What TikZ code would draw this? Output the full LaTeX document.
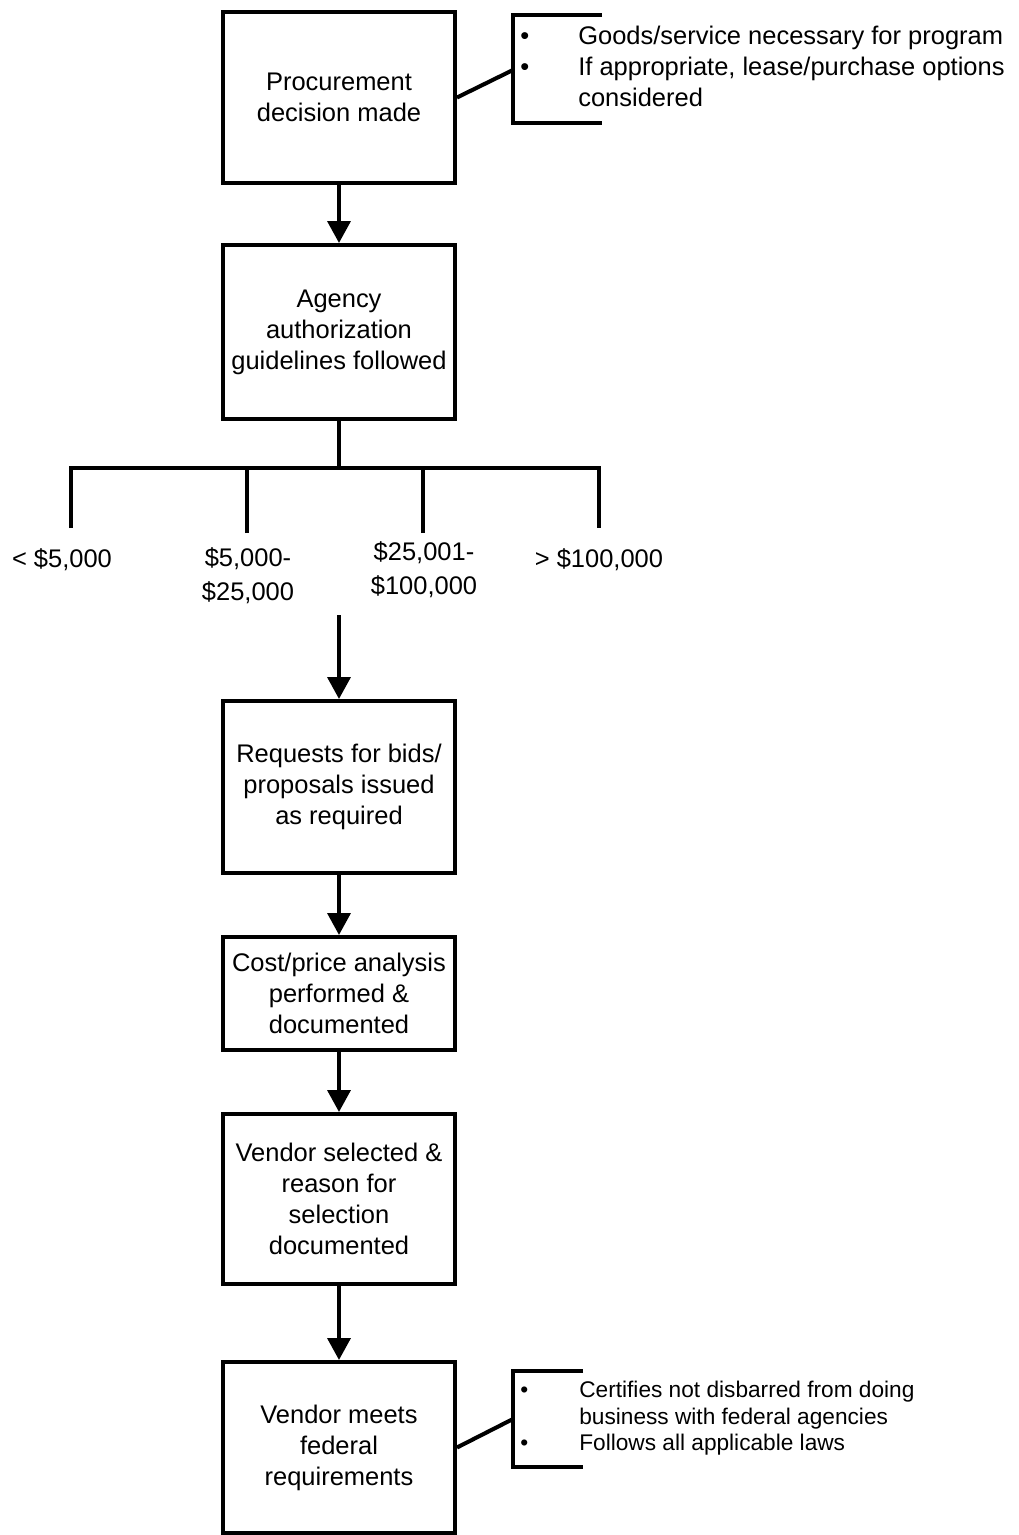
\documentclass[tikz,border=0pt]{standalone}
\usepackage{fontspec}
\setmainfont{Liberation Sans}
\usetikzlibrary{arrows.meta}

\tikzset{
  stepbox/.style={draw,line width=2.3pt,minimum width=4.64cm,inner sep=0pt,
    align=center,font=\fontsize{14.5pt}{17.6pt}\selectfont},
  flow/.style={line width=2.3pt,-{Triangle[length=12.5pt,width=13pt]}},
  link/.style={line width=2.3pt},
  pricelabel/.style={align=center,inner sep=0pt,font=\fontsize{14.5pt}{19.3pt}\selectfont},
  notes/.style={anchor=west,inner sep=0pt,align=left}
}

\begin{document}
\begin{tikzpicture}[x=0.02cm,y=-0.02cm]
\useasboundingbox (0,0) rectangle (1018,1535);

% steps
\node [stepbox,minimum height=3.42cm] (decide) at (339,97.5) {Procurement\\decision made};
\node [stepbox,minimum height=3.48cm] (agency) at (339,332) {Agency\\authorization\\guidelines followed};
\node [stepbox,minimum height=3.44cm] (bids) at (339,787) {Requests for bids/\\proposals issued\\as required};
\node [stepbox,minimum height=2.26cm] (cost) at (339,993.5) {Cost/price analysis\\performed \&\\documented};
\node [stepbox,minimum height=3.40cm] (vendor) at (339,1199) {Vendor selected \&\\reason for\\selection\\documented};
\node [stepbox,minimum height=3.42cm] (federal) at (339,1447.5) {Vendor meets\\federal\\requirements};

% price ranges
\node [pricelabel] (lt5k) at (62,560) {< \$5,000};
\node [pricelabel] (r5k) at (248,576) {\$5,000-\\\$25,000};
\node [pricelabel] (r25k) at (424,570) {\$25,001-\\\$100,000};
\node [pricelabel] (gt100k) at (599,560) {> \$100,000};

\coordinate (split) at (339,468);
\coordinate (d1) at (71,528);
\coordinate (d2) at (247,533);
\coordinate (d3) at (423,533);
\coordinate (d4) at (599,528);
\coordinate (merge) at (339,615);

\draw [link] (agency) -- (split);
\draw [link] (d1) |- (split) -| (d4);
\draw [link] (d2) -- (d2 |- split);
\draw [link] (d3) -- (d3 |- split);

\draw [flow] (decide) -- (agency);
\draw [flow] (merge) -- (bids);
\draw [flow] (bids) -- (cost);
\draw [flow] (cost) -- (vendor);
\draw [flow] (vendor) -- (federal);

% notes
\node [notes,font=\fontsize{14.5pt}{17.6pt}\selectfont] (need) at (520,69) {%
\begin{tabular}{@{}p{1.16cm}@{}l@{}}
\textbullet & Goods/service necessary for program\\
\textbullet & If appropriate, lease/purchase options\\
 & considered
\end{tabular}};
\coordinate (br1) at (513,70);
\draw [link] (602,15) -- (513,15) -- (513,123) -- (602,123);
\draw [link] (decide.east) -- (br1);

\node [notes,font=\fontsize{12.9pt}{15pt}\selectfont] (rules) at (520,1419) {%
\begin{tabular}{@{}p{1.18cm}@{}l@{}}
\textbullet & Certifies not disbarred from doing\\
 & business with federal agencies\\
\textbullet & Follows all applicable laws
\end{tabular}};
\coordinate (br2) at (513,1419);
\draw [link] (583,1371) -- (513,1371) -- (513,1467) -- (583,1467);
\draw [link] (federal.east) -- (br2);
\end{tikzpicture}
\end{document}
